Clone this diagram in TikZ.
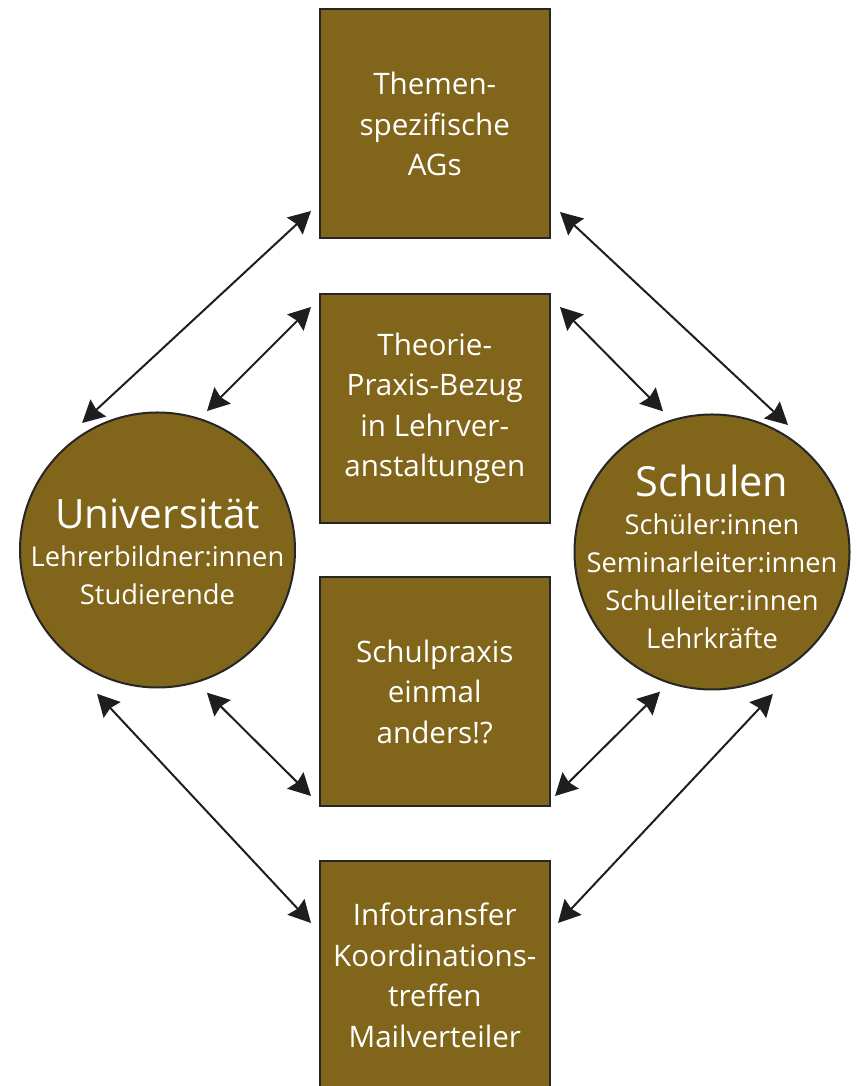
\documentclass[tikz,border=0pt]{standalone}
\usepackage{fontspec}
\setmainfont{Open Sans}
\usetikzlibrary{arrows.meta}
\definecolor{gold}{HTML}{80651A}
\definecolor{edge}{HTML}{262626}
\definecolor{arr}{HTML}{1E1E1E}
\begin{document}
\begin{tikzpicture}[x=1pt,y=1pt,
  boxnode/.style={draw=edge, line width=2pt, fill=gold, minimum width=230.5pt, minimum height=229pt, inner sep=0pt, outer sep=0pt, align=center, text=white, font=\fontsize{29.6}{40.5}\selectfont},
  circnode/.style={draw=edge, line width=2pt, fill=gold, circle, minimum size=275pt, inner sep=0pt, outer sep=0pt},
  circtext/.style={align=center, text=white, font=\fontsize{27.3}{38}\selectfont, inner sep=0pt},
  dbl/.style={draw=arr, line width=2pt, {Stealth[length=22pt,width=23pt,inset=2.5pt]}-{Stealth[length=22pt,width=23pt,inset=2.5pt]}}
]
\useasboundingbox (0,0) rectangle (856,1086);
\node[boxnode] (b1) at (434.75,962) {Themen-\\spezifische\\AGs};
\node[boxnode] (b2) at (434.75,677.5) {Theorie-\\Praxis-Bezug\\in Lehrver-\\anstaltungen};
\node[boxnode] (b3) at (434.75,394.5) {Schulpraxis\\einmal\\anders!?};
\node[boxnode] (b4) at (434.75,110.5) {Infotransfer\\Koordinations-\\treffen\\Mailverteiler};
\node[circnode] (uni) at (157.5,536) {};
\node[circnode] (sch) at (712,534) {};
\node[circtext] (unitext) at (157.5,534) {{\fontsize{40.5}{38}\selectfont Universität}\\Lehrerbildner:innen\\Studierende};
\node[circtext] (schtext) at (712,529.5) {{\fontsize{41.5}{38}\selectfont Schulen}\\Schüler:innen\\Seminarleiter:innen\\Schulleiter:innen\\Lehrkräfte};
\draw[dbl] ([shift={(120.7:147.7pt)}]uni.center) -- ([shift={(-8.5,27.5)}]b1.south west);
\draw[dbl] ([shift={(70.4:147.5pt)}]uni.center) -- ([shift={(-8.5,-13)}]b2.north west);
\draw[dbl] ([shift={(59.1:148pt)}]sch.center) -- ([shift={(10,26.5)}]b1.south east);
\draw[dbl] ([shift={(109.2:149pt)}]sch.center) -- ([shift={(10,-13)}]b2.north east);
\draw[dbl] ([shift={(-70.9:151pt)}]uni.center) -- ([shift={(-8.5,10)}]b3.south west);
\draw[dbl] ([shift={(-112.8:156pt)}]uni.center) -- ([shift={(-8.5,-62)}]b4.north west);
\draw[dbl] ([shift={(-110.4:149pt)}]sch.center) -- ([shift={(5,10)}]b3.south east);
\draw[dbl] ([shift={(-66.8:154.5pt)}]sch.center) -- ([shift={(8,-62)}]b4.north east);
\end{tikzpicture}
\end{document}
